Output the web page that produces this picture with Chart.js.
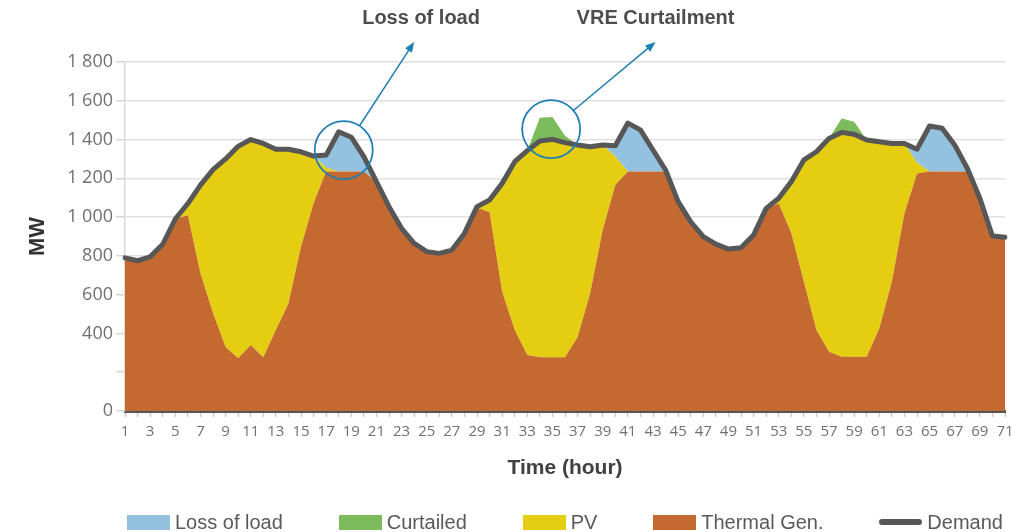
<!DOCTYPE html>
<html>
<head>
<meta charset="utf-8">
<title>Loss of load and VRE curtailment</title>
<script src="https://cdn.jsdelivr.net/npm/chart.js@4.4.1/dist/chart.umd.min.js"></script>
<style>
  body { margin: 0; background: #fff; }
  #wrap { position: relative; width: 1023px; height: 532px; }
  #legend {
    position: absolute; left: 127px; top: 511px; width: 876px;
    display: flex; justify-content: space-between; align-items: center;
    font: 20px "Liberation Sans", Arial, sans-serif; color: #595959; line-height: 22px;
  }
  #legend .item { display: flex; align-items: center; }
  #legend .swatch { width: 43px; height: 15px; margin-right: 5px; }
  #legend .swatch.line { height: 6px; border-radius: 3px; }
</style>
</head>
<body>
<div id="wrap">
  <canvas id="chart"></canvas>
  <div id="legend"></div>
</div>
<script>
// hours 1..71
const hours = Array.from({ length: 71 }, (_, i) => String(i + 1));

const demandMW = [
  790, 775, 795, 860, 990, 1070, 1165, 1245, 1300, 1365,
  1400, 1380, 1350, 1350, 1337, 1315, 1320, 1440, 1412, 1312,
  1183, 1054, 942, 865, 822, 813, 830, 916, 1054, 1088,
  1174, 1286, 1343, 1393, 1401, 1384, 1372, 1363, 1372, 1368,
  1485, 1450, 1346, 1243, 1080, 976, 899, 861, 835, 842,
  908, 1045, 1097, 1183, 1295, 1337, 1406, 1437, 1427, 1398,
  1389, 1380, 1380, 1350, 1470, 1458, 1372, 1252, 1097, 903, 896
];

const thermalMW = [
  790, 775, 795, 860, 990, 1010, 710, 505, 330, 272,
  340, 277, 418, 555, 847, 1071, 1235, 1235, 1235, 1235,
  1183, 1054, 942, 865, 822, 813, 830, 916, 1050, 1025,
  615, 418, 289, 277, 277, 277, 380, 607, 933, 1165,
  1235, 1235, 1235, 1235, 1080, 976, 899, 861, 835, 842,
  908, 1045, 1070, 918, 667, 418, 306, 280, 280, 280,
  426, 667, 1019, 1225, 1235, 1235, 1235, 1235, 1097, 903, 896
];

const pvMW = [
  0, 0, 0, 0, 0, 60, 455, 740, 970, 1093,
  1060, 1103, 932, 795, 490, 244, 20, 0, 0, 0,
  0, 0, 0, 0, 0, 0, 0, 0, 4, 63,
  559, 868, 1054, 1116, 1124, 1107, 992, 756, 439, 147,
  0, 0, 0, 0, 0, 0, 0, 0, 0, 0,
  0, 0, 27, 265, 628, 919, 1100, 1157, 1147, 1118,
  963, 713, 361, 55, 0, 0, 0, 0, 0, 0, 0
];

const lossOfLoadMW = [
  0, 0, 0, 0, 0, 0, 0, 0, 0, 0,
  0, 0, 0, 0, 0, 0, 65, 205, 177, 77,
  0, 0, 0, 0, 0, 0, 0, 0, 0, 0,
  0, 0, 0, 0, 0, 0, 0, 0, 0, 56,
  250, 215, 111, 8, 0, 0, 0, 0, 0, 0,
  0, 0, 0, 0, 0, 0, 0, 0, 0, 0,
  0, 0, 0, 70, 235, 223, 137, 17, 0, 0, 0
];

const curtailedMW = [
  0, 0, 0, 0, 0, 0, 0, 0, 0, 0,
  0, 0, 0, 0, 0, 0, 0, 0, 0, 0,
  0, 0, 0, 0, 0, 0, 0, 0, 0, 0,
  0, 0, 0, 120, 115, 35, 0, 0, 0, 0,
  0, 0, 0, 0, 0, 0, 0, 0, 0, 0,
  0, 0, 0, 0, 0, 0, 0, 72, 65, 0,
  0, 0, 0, 0, 0, 0, 0, 0, 0, 0, 0
];

// callouts: circle centre (hour, MW), arrow tip and label position
const calloutText = ['Loss of load', 'VRE Curtailment'];
const calloutHour = [18.4, 34.9];
const calloutMW = [1346, 1454];
const arrowTipHour = [24.0, 43.2];
const arrowTipMW = [1903, 1903];
const labelHour = [24.55, 43.2];
const labelMW = [2022, 2022];

const colors = {
  demand: '#575757',
  thermal: '#c4692f',
  pv: '#e5cd12',
  lossOfLoad: '#93c1e0',
  curtailed: '#7cbb5b',
  callout: '#1f7fb4'
};

Chart.defaults.font.family = '"Open Sans", sans-serif';

const area = (label, data, color, fill) => ({
  label,
  data,
  stack: 'supply',
  backgroundColor: color,
  borderColor: 'transparent',
  borderWidth: 0,
  pointRadius: 0,
  fill,
  tension: 0
});

const calloutPlugin = {
  id: 'callouts',
  afterDatasetsDraw(chart) {
    const { ctx, scales: { x, y } } = chart;
    ctx.save();
    calloutText.forEach((text, i) => {
      const cx = x.getPixelForValue(calloutHour[i] - 1);
      const cy = y.getPixelForValue(calloutMW[i]);
      const tx = x.getPixelForValue(arrowTipHour[i] - 1);
      const ty = y.getPixelForValue(arrowTipMW[i]);
      const r = 29;
      const ang = Math.atan2(ty - cy, tx - cx);

      ctx.strokeStyle = colors.callout;
      ctx.fillStyle = colors.callout;
      ctx.lineWidth = 1.8;
      ctx.beginPath();
      ctx.arc(cx, cy, r, 0, Math.PI * 2);
      ctx.stroke();

      const sx = cx + r * Math.cos(ang), sy = cy + r * Math.sin(ang);
      const head = 11;
      ctx.lineWidth = 1.5;
      ctx.beginPath();
      ctx.moveTo(sx, sy);
      ctx.lineTo(tx - head * 0.8 * Math.cos(ang), ty - head * 0.8 * Math.sin(ang));
      ctx.stroke();
      ctx.beginPath();
      ctx.moveTo(tx, ty);
      ctx.lineTo(tx - head * Math.cos(ang - 0.38), ty - head * Math.sin(ang - 0.38));
      ctx.lineTo(tx - head * Math.cos(ang + 0.38), ty - head * Math.sin(ang + 0.38));
      ctx.closePath();
      ctx.fill();

      ctx.fillStyle = '#4d4d4d';
      ctx.font = 'bold 20px "Liberation Sans", Arial, sans-serif';
      ctx.textAlign = 'center';
      ctx.textBaseline = 'middle';
      ctx.fillText(text, x.getPixelForValue(labelHour[i] - 1), y.getPixelForValue(labelMW[i]));
    });
    ctx.restore();
  }
};

const chart = new Chart(document.getElementById('chart'), {
  type: 'line',
  data: {
    labels: hours,
    datasets: [
      {
        label: 'Demand',
        data: demandMW,
        stack: 'demand',
        borderColor: colors.demand,
        backgroundColor: colors.demand,
        borderWidth: 5,
        borderJoinStyle: 'round',
        borderCapStyle: 'round',
        pointRadius: 0,
        fill: false,
        tension: 0
      },
      area('Thermal Gen.', thermalMW, colors.thermal, 'origin'),
      area('PV', pvMW, colors.pv, '-1'),
      area('Loss of load', lossOfLoadMW, colors.lossOfLoad, '-1'),
      area('Curtailed', curtailedMW, colors.curtailed, '-1')
    ]
  },
  options: {
    responsive: true,
    maintainAspectRatio: false,
    animation: false,
    layout: { padding: { top: 62, right: 18, bottom: 41, left: 0 } },
    plugins: {
      legend: { display: false },
      tooltip: { enabled: false }
    },
    scales: {
      x: {
        grid: { drawOnChartArea: false, tickLength: 6, tickColor: '#c8c8c8', tickWidth: 1.5 },
        border: { color: '#555', width: 3 },
        ticks: {
          autoSkip: false,
          maxRotation: 0,
          padding: 6,
          color: '#707070',
          font: { size: 15 },
          callback: (v, i) => (i % 2 === 0 ? hours[i] : '')
        },
        title: {
          display: true,
          text: 'Time (hour)',
          color: '#404040',
          font: { family: '"Liberation Sans", Arial, sans-serif', size: 21, weight: 'bold' },
          padding: { top: 0, bottom: 10 }
        },
        afterFit: (scale) => { scale.height = 80; }
      },
      y: {
        stacked: true,
        min: 0,
        max: 1800,
        grid: { color: '#e0e0e0', lineWidth: 1.5, tickLength: 9, tickColor: '#d6d6d6' },
        border: { color: '#d9d9d9', width: 1.5 },
        ticks: {
          stepSize: 200,
          padding: 3,
          color: '#707070',
          font: { size: 18 },
          callback: (v) => (v === 200 ? '' : String(v).replace(/\B(?=(\d{3})+(?!\d))/g, ' '))
        },
        title: {
          display: true,
          text: 'MW',
          color: '#333',
          font: { family: '"Liberation Sans", Arial, sans-serif', size: 22, weight: 'bold' },
          padding: { top: 25, bottom: 0 }
        },
        afterFit: (scale) => { scale.width = 125; }
      }
    }
  },
  plugins: [calloutPlugin]
});

// html legend in the order of the source figure
const legendOrder = ['Loss of load', 'Curtailed', 'PV', 'Thermal Gen.', 'Demand'];
const legendEl = document.getElementById('legend');
legendOrder.forEach((name) => {
  const ds = chart.data.datasets.find((d) => d.label === name);
  const item = document.createElement('div');
  item.className = 'item';
  const sw = document.createElement('span');
  sw.className = name === 'Demand' ? 'swatch line' : 'swatch';
  sw.style.background = ds.backgroundColor;
  item.appendChild(sw);
  item.appendChild(document.createTextNode(name));
  legendEl.appendChild(item);
});
</script>
</body>
</html>
